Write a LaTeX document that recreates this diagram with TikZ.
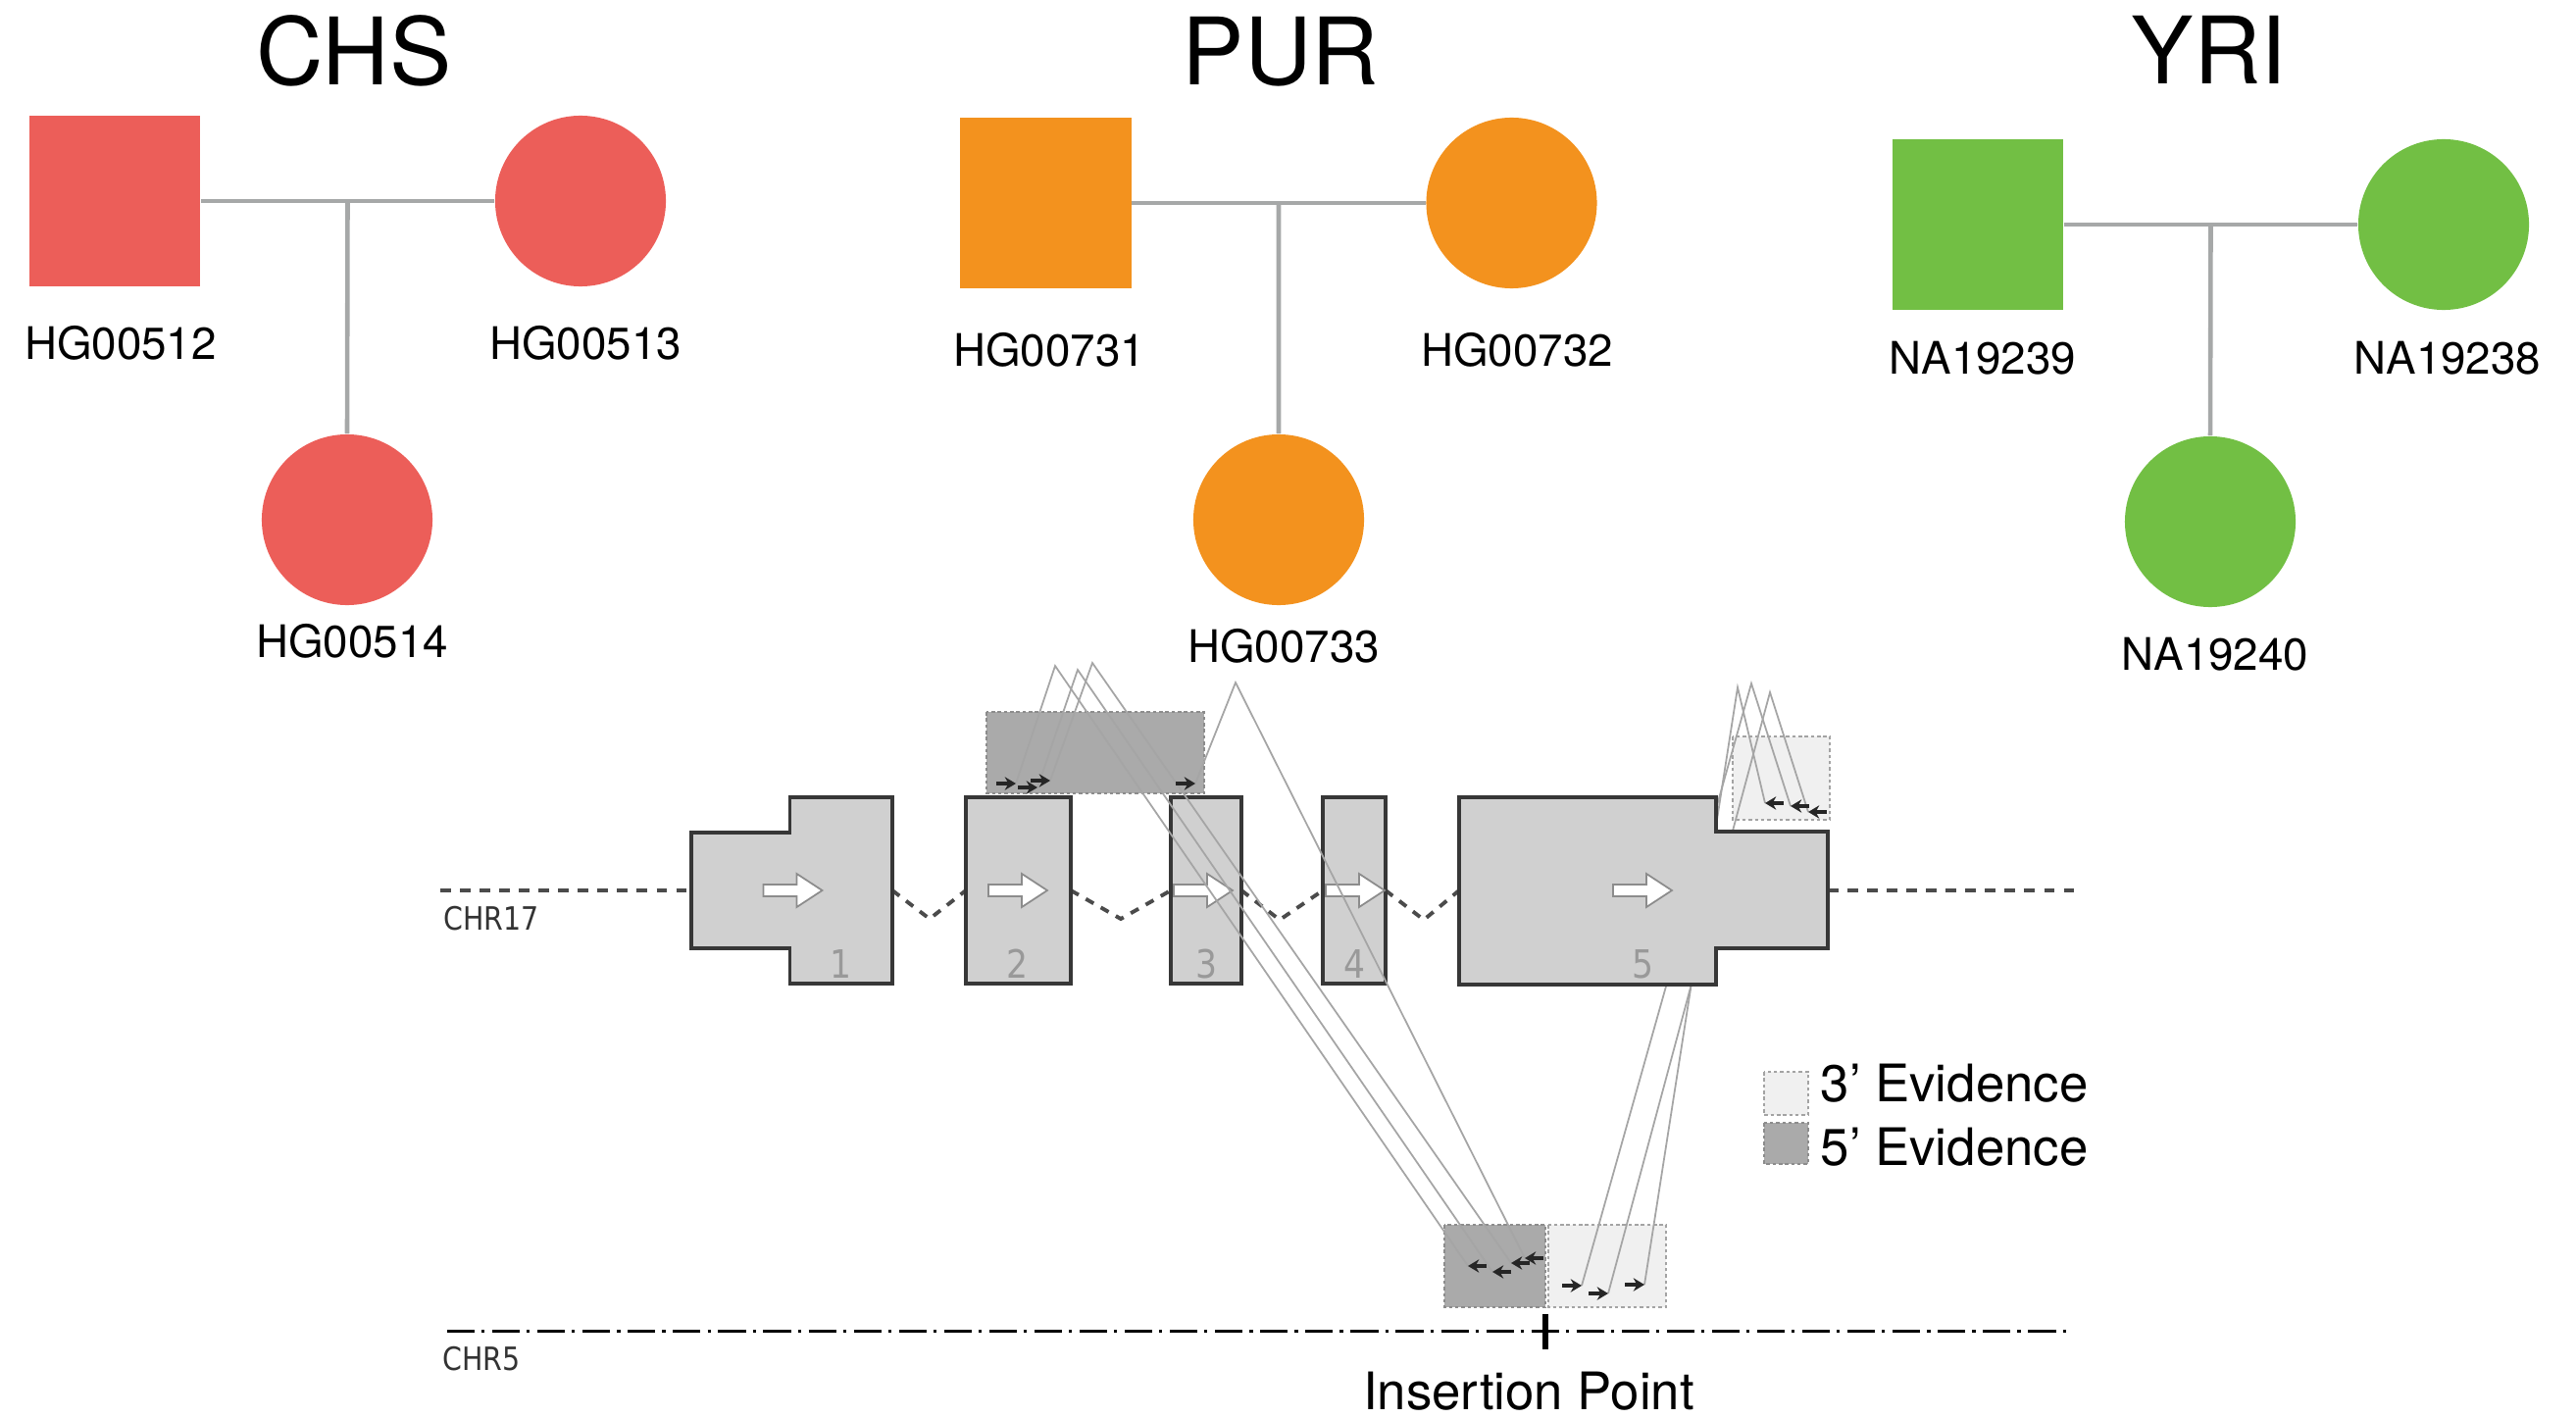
\documentclass[tikz,border=0pt]{standalone}
\usepackage{fontspec}
\setmainfont{TeX Gyre Heros}
\newfontfamily\chrfont[FakeStretch=0.87]{DejaVu Sans}
\usetikzlibrary{arrows.meta,calc}
\definecolor{chsred}{RGB}{236,94,89}
\definecolor{purorange}{RGB}{243,146,30}
\definecolor{yrigreen}{RGB}{114,191,68}
\definecolor{pedgray}{RGB}{166,168,168}
\definecolor{exonfill}{RGB}{208,208,208}
\definecolor{exonline}{RGB}{55,55,55}
\definecolor{chrgray}{RGB}{75,75,75}
\definecolor{readgray}{RGB}{165,165,165}
\definecolor{evfivefill}{RGB}{170,170,170}
\definecolor{evthreefill}{RGB}{240,240,240}
\definecolor{evline}{RGB}{140,140,140}
\tikzset{
  male/.style={rectangle, minimum size=1.74cm, inner sep=0pt, draw=none},
  female/.style={circle, minimum size=1.74cm, inner sep=0pt, draw=none},
  pedline/.style={draw=pedgray, line width=1.3pt},
  ttl/.style={anchor=base, inner sep=0pt, font=\fontsize{27}{30}\selectfont},
  lbl/.style={anchor=base, inner sep=0pt, font=\fontsize{13}{15}\selectfont},
  biglbl/.style={anchor=base, inner sep=0pt, font=\fontsize{15}{17}\selectfont},
  exon/.style={fill=exonfill, draw=exonline, line width=1.1pt, line join=miter},
  chrline/.style={draw=chrgray, line width=1.4pt, dash pattern=on 3.1pt off 2.6pt},
  intronline/.style={draw=chrgray, line width=1.1pt, dash pattern=on 2.6pt off 2.4pt},
  chrlbl/.style={anchor=base west, inner sep=0pt, text=black!80, font=\chrfont\fontsize{9.3}{11}\selectfont},
  exnum/.style={anchor=base, inner sep=0pt, text=black!40, font=\chrfont\fontsize{11.3}{13}\selectfont},
  readline/.style={draw=readgray, line width=0.5pt},
  readarrow/.style={-{Stealth[length=3.2pt,width=3.8pt]}, line width=1pt, draw=black!85},
  evfive/.style={fill=evfivefill, draw=evline, line width=0.4pt, dash pattern=on 1pt off 0.8pt},
  evthree/.style={fill=evthreefill, draw=evline!80, line width=0.4pt, dash pattern=on 1pt off 0.8pt},
  blockarrow/.style={fill=white, draw=black!45, line width=0.5pt},
  exarrow/.pic={\draw[blockarrow] (-60,-6) -- (-26,-6) -- (-26,-17) -- (0,0) -- (-26,17) -- (-26,6) -- (-60,6) -- cycle;}
}
\begin{document}
\begin{tikzpicture}[x=0.01cm,y=-0.01cm]
\useasboundingbox (0,0) rectangle (2627,1446);

% ---------------- pedigrees ----------------
% CHS
\node[ttl] (tchs) at (361,87) {CHS};
\node[male, fill=chsred] (m1) at (117,205) {};
\node[female, fill=chsred] (f1) at (592,205) {};
\node[female, fill=chsred] (c1) at (354,530) {};
\coordinate (j1) at ($(m1.east)!0.5!(f1.west)$);
\draw[pedline] (m1.east) -- (f1.west);
\draw[pedline] (j1) -- (c1.north);
\node[lbl] (lm1) at (123,367) {HG00512};
\node[lbl] (lf1) at (597,367) {HG00513};
\node[lbl] (lc1) at (359,670) {HG00514};

% PUR
\node[ttl] (tpur) at (1306,87) {PUR};
\node[male, fill=purorange] (m2) at (1066.5,207) {};
\node[female, fill=purorange] (f2) at (1541.5,207) {};
\node[female, fill=purorange] (c2) at (1304,530) {};
\coordinate (j2) at ($(m2.east)!0.5!(f2.west)$);
\draw[pedline] (m2.east) -- (f2.west);
\draw[pedline] (j2) -- (c2.north);
\node[lbl] (lm2) at (1070,374) {HG00731};
\node[lbl] (lf2) at (1547,374) {HG00732};
\node[lbl] (lc2) at (1309,675) {HG00733};

% YRI
\node[ttl] (tyri) at (2253,86) {YRI};
\node[male, fill=yrigreen] (m3) at (2017,229) {};
\node[female, fill=yrigreen] (f3) at (2492,229) {};
\node[female, fill=yrigreen] (c3) at (2254,532) {};
\coordinate (j3) at ($(m3.east)!0.5!(f3.west)$);
\draw[pedline] (m3.east) -- (f3.west);
\draw[pedline] (j3) -- (c3.north);
\node[lbl] (lm3) at (2022,382) {NA19239};
\node[lbl] (lf3) at (2496,382) {NA19238};
\node[lbl] (lc3) at (2259,683) {NA19240};

% ---------------- gene diagram ----------------
% chromosome 17 backbone and introns
\draw[chrline] (449,908) -- (705,908);
\draw[chrline] (1864,908) -- (2115,908);
\draw[intronline] (910,908) -- (948,937) -- (985,908);
\draw[intronline] (1092,908) -- (1143,937) -- (1194,908);
\draw[intronline] (1266,908) -- (1305,938) -- (1349,908);
\draw[intronline] (1413,908) -- (1452,938) -- (1488,908);
\node[chrlbl] (chr17) at (452,948) {CHR17};

% evidence boxes
\draw[evfive] (1006,726) rectangle (1228,809);
\draw[evthree] (1767,751) rectangle (1866,836);
\draw[evfive] (1473,1249) rectangle (1576,1333);
\draw[evthree] (1579,1249) rectangle (1699,1333);

% read coordinates
\coordinate (p1) at (1076,679);
\coordinate (p2) at (1099,683);
\coordinate (p3) at (1114,676);
\coordinate (p4) at (1260,696);
\coordinate (t1) at (1036,799);
\coordinate (t2) at (1058,803);
\coordinate (t3) at (1071,796);
\coordinate (t4) at (1219,799);
\coordinate (b1) at (1497,1291);
\coordinate (b2) at (1522,1297);
\coordinate (b3) at (1541,1288);
\coordinate (b4) at (1555,1283);
\coordinate (q1) at (1772,701);
\coordinate (q2) at (1786,697);
\coordinate (q3) at (1805,706);
\coordinate (s1) at (1800,819);
\coordinate (s2) at (1826,822);
\coordinate (s3) at (1844,828);
\coordinate (r1) at (1613,1311);
\coordinate (r2) at (1640,1319);
\coordinate (r3) at (1677,1310);

% 3' reads (behind exon 5)
\draw[readline] (s1) -- (q1) -- (r3);
\draw[readline] (s2) -- (q2) -- (r1);
\draw[readline] (s3) -- (q3) -- (r2);

% exons
\draw[exon] (705,849) -- (805.5,849) -- (805.5,813) -- (910,813) -- (910,1003) -- (805.5,1003) -- (805.5,967) -- (705,967) -- cycle;
\draw[exon] (985,813) rectangle (1092,1003);
\draw[exon] (1194,813) rectangle (1266,1003);
\draw[exon] (1349,813) rectangle (1413,1003);
\draw[exon] (1488,813) -- (1750,813) -- (1750,848) -- (1864,848) -- (1864,967) -- (1750,967) -- (1750,1004) -- (1488,1004) -- cycle;
\pic at (838.5,908) {exarrow};
\pic at (1068,908) {exarrow};
\pic at (1257,908) {exarrow};
\pic at (1412,908) {exarrow};
\pic at (1705,908) {exarrow};
\node[exnum] (n1) at (857,997) {1};
\node[exnum] (n2) at (1037,997) {2};
\node[exnum] (n3) at (1230,997) {3};
\node[exnum] (n4) at (1381,997) {4};
\node[exnum] (n5) at (1675,997) {5};

% 5' reads
\draw[readline] (t1) -- (p1) -- (b1);
\draw[readline] (t2) -- (p2) -- (b2);
\draw[readline] (t3) -- (p3) -- (b3);
\draw[readline] (t4) -- (p4) -- (b4);

% read arrows
\foreach \c in {t1,t2,t3,t4} {\draw[readarrow] ($(\c)+(-20,0)$) -- (\c);}
\foreach \c in {b1,b2,b3,b4,s1,s2,s3} {\draw[readarrow] ($(\c)+(19,0)$) -- (\c);}
\foreach \c in {r1,r2,r3} {\draw[readarrow] ($(\c)+(-20,0)$) -- (\c);}

% chromosome 5
\draw[line width=1.05pt, dash pattern=on 8pt off 2pt on 0.9pt off 2.2pt] (456,1357.5) -- (2114,1357.5);
\draw[line width=1.9pt] (1576,1340) -- (1576,1376);
\node[chrlbl] (chr5) at (451,1397) {CHR5};
\node[biglbl] (ins) at (1559,1437) {Insertion Point};

% legend
\draw[evthree] (1799,1093) rectangle (1844,1137);
\draw[evfive] (1799,1145) rectangle (1844,1187);
\node[biglbl, anchor=base west] (leg3) at (1856,1123) {3’ Evidence};
\node[biglbl, anchor=base west] (leg5) at (1856,1188) {5’ Evidence};
\end{tikzpicture}
\end{document}
